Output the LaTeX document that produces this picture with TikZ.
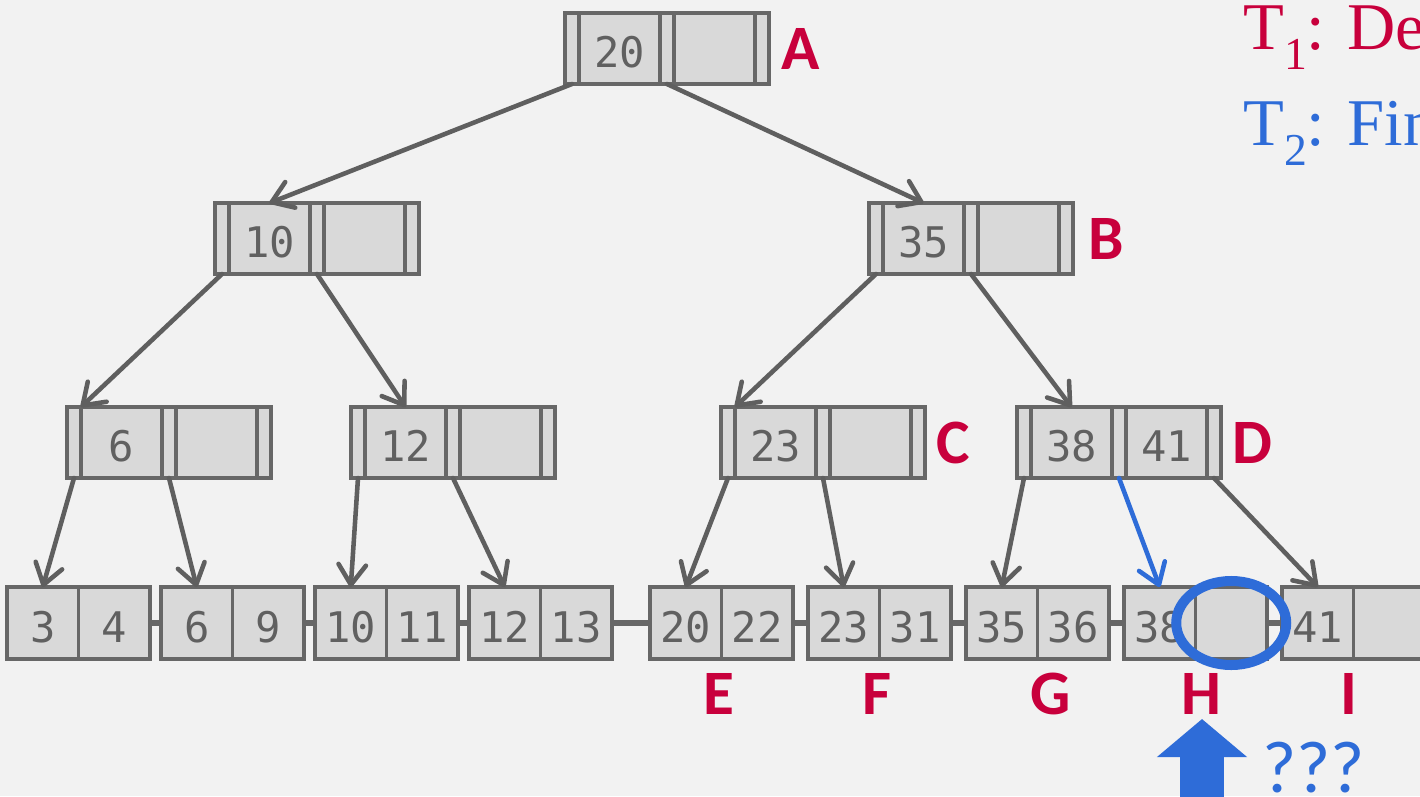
\documentclass[tikz,border=0pt]{standalone}
\usepackage{fontspec}
\usepackage{tikz}
\usetikzlibrary{positioning,arrows.meta}

\newfontfamily\keyfont{DejaVu Sans Mono}
\newfontfamily\labelfont{Carlito}
\newfontfamily\notefont{Liberation Serif}

\definecolor{bggray}{HTML}{F2F2F2}
\definecolor{cellfill}{HTML}{D9D9D9}
\definecolor{cellline}{HTML}{676767}
\definecolor{keytext}{HTML}{606060}
\definecolor{edgegray}{HTML}{5F5F5F}
\definecolor{tagred}{HTML}{C8003C}
\definecolor{findblue}{HTML}{2E6CD8}

% inner node: name, top left corner, first key, second key
\newcommand{\innernode}[4]{%
  \node[ptrcell,anchor=north west] (#1p0) at #2 {};
  \node[keycell,right=0pt of #1p0] (#1k1) {#3};
  \node[ptrcell,right=0pt of #1k1] (#1p1) {};
  \node[keycell,right=0pt of #1p1] (#1k2) {#4};
  \node[ptrcell,right=0pt of #1k2] (#1p2) {};
}
% leaf node: name, top left corner, first key, second key
\newcommand{\leafnode}[4]{%
  \node[leafcell,anchor=north west] (#1k1) at #2 {#3};
  \node[leafcell,right=0pt of #1k1] (#1k2) {#4};
}
% transaction name with lowered index
\newcommand{\txname}[1]{T\raisebox{-0.3em}{\fontsize{26}{26}\selectfont #1}}

\begin{document}
\begin{tikzpicture}[x=0.02cm,y=-0.02cm,
    cell/.style={draw=cellline,fill=cellfill,line width=1.8pt,inner sep=0pt,outer sep=0pt,
      minimum height=1.42cm,text=keytext,text height=22pt,text depth=0pt,
      font=\keyfont\fontsize{24}{24}\selectfont},
    ptrcell/.style={cell,minimum width=0.28cm},
    keycell/.style={cell,minimum width=1.62cm},
    leafcell/.style={cell,minimum width=1.43cm,minimum height=1.44cm},
    edge/.style={draw=edgegray,line width=2.6pt,line cap=round,
      -{Straight Barb[length=4mm,width=5.5mm,round]}},
    findedge/.style={edge,draw=findblue},
    link/.style={draw=cellline,line width=3.4pt},
    tag/.style={text=tagred,font=\labelfont\bfseries\fontsize{36}{36}\selectfont,inner sep=0pt},
    note/.style={anchor=base west,inner sep=0pt,font=\notefont\fontsize{38}{40}\selectfont},
    ring/.style={draw=findblue,line width=5.7pt},
    bigarrow/.style={draw=findblue,line width=0.88cm,-{Triangle[length=0.76cm,width=1.76cm]}}]

\useasboundingbox (0,0) rectangle (1420,796);
\clip (0,0) rectangle (1420,796);
\fill[bggray] (0,0) rectangle (1420,796);

% Inner nodes
\innernode{A}{(565,13)}{20}{}
\innernode{n10}{(215,203)}{10}{}
\innernode{B}{(869,203)}{35}{}
\innernode{n6}{(67,407)}{6}{}
\innernode{n12}{(351,407)}{12}{}
\innernode{C}{(721,407)}{23}{}
\innernode{D}{(1017,407)}{38}{41}

% Leaf nodes
\leafnode{l3}{(7,587)}{3}{4}
\leafnode{l6}{(161,587)}{6}{9}
\leafnode{l10}{(315,587)}{10}{11}
\leafnode{l12}{(469,587)}{12}{13}
\leafnode{E}{(650,587)}{20}{22}
\leafnode{F}{(808,587)}{23}{31}
\leafnode{G}{(966,587)}{35}{36}
\leafnode{H}{(1124,587)}{38}{}
\leafnode{I}{(1282,587)}{41}{}

% Sibling links
\draw[link] (l3k2.east) -- (l6k1.west);
\draw[link] (l6k2.east) -- (l10k1.west);
\draw[link] (l10k2.east) -- (l12k1.west);
\draw[link] (l12k2.east) -- (Ek1.west);
\draw[link] (Ek2.east) -- (Fk1.west);
\draw[link] (Fk2.east) -- (Gk1.west);
\draw[link] (Gk2.east) -- (Hk1.west);
\draw[link] (Hk2.east) -- (Ik1.west);

% Child pointers
\draw[edge] (Ap0.south) -- (n10k1.north);
\draw[edge] (Ap1.south) -- (Bk1.north);
\draw[edge] (n10p0.south) -- (n6k1.north west);
\draw[edge] (n10p1.south) -- (n12k1.north);
\draw[edge] (Bp0.south) -- (Ck1.north west);
\draw[edge] (Bp1.south) -- (Dk1.north);
\draw[edge] (n6p0.south) -- (l3k1.north);
\draw[edge] (n6p1.south) -- (l6k1.north);
\draw[edge] (n12p0.south) -- (l10k1.north);
\draw[edge] (n12p1.south) -- (l12k1.north);
\draw[edge] (Cp0.south) -- (Ek1.north);
\draw[edge] (Cp1.south) -- (Fk1.north);
\draw[edge] (Dp0.south) -- (Gk1.north);
\draw[findedge] (Dp1.south) -- (Hk1.north);
\draw[edge] (Dp2.south) -- (Ik1.north);

% Node names
\node[tag,right=0.24cm of Ap2] (labA) {A};
\node[tag,right=0.3cm of Bp2] (labB) {B};
\node[tag,right=0.22cm of Cp2] (labC) {C};
\node[tag,right=0.22cm of Dp2] (labD) {D};
\node[tag] (labE) at (719,694) {E};
\node[tag] (labF) at (877,694) {F};
\node[tag] (labG) at (1051,694) {G};
\node[tag] (labH) at (1201,694) {H};
\node[tag] (labI) at (1349,694) {I};

% Transactions
\node[note,text=tagred] (t1) at (1243,49) {\txname{1}: Delete};
\node[note,text=findblue] (t2) at (1243,145) {\txname{2}: Find};

% Empty slot in H
\draw[ring] (Hk2.center) ellipse [x radius=55, y radius=42];
\coordinate (arrowbase) at (1202,810);
\coordinate (arrowtip) at (1202,719);
\draw[bigarrow] (arrowbase) -- (arrowtip);
\node[anchor=west,text=findblue,font=\labelfont\fontsize{42}{42}\selectfont,inner sep=0pt] (qmarks) at (1262,768) {???};

\end{tikzpicture}
\end{document}
